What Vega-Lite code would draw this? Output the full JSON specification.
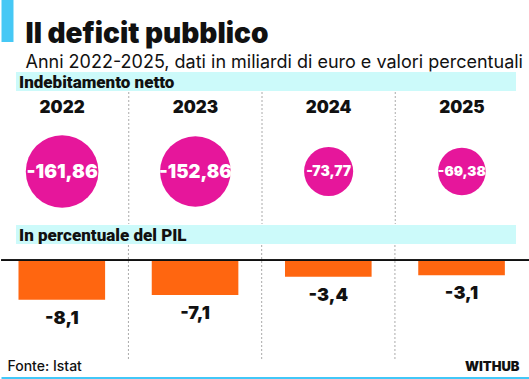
{
  "$schema": "https://vega.github.io/schema/vega-lite/v6.json",
  "padding": 0,
  "background": "white",
  "config": {
    "view": {"stroke": null},
    "locale": {"number": {"decimal": ",", "thousands": ".", "grouping": [3], "currency": ["", " €"], "minus": "-"}}
  },
  "datasets": {
    "deficit": [
      {"anno": "2022", "miliardi": -161.86, "pil": -8.1},
      {"anno": "2023", "miliardi": -152.86, "pil": -7.1},
      {"anno": "2024", "miliardi": -73.77, "pil": -3.4},
      {"anno": "2025", "miliardi": -69.38, "pil": -3.1}
    ]
  },
  "vconcat": [
    {
      "hconcat": [
        {"width": 12, "height": 42, "data": {"values": [{}]}, "mark": {"type": "rect", "color": "#46c8f5"}, "encoding": {}},
        {
          "width": 505, "height": 1,
          "data": {"values": [{}]},
          "mark": {"type": "rect", "opacity": 0},
          "encoding": {},
          "title": {
            "text": "Il deficit pubblico",
            "subtitle": "Anni 2022-2025, dati in miliardi di euro e valori percentuali",
            "orient": "bottom", "anchor": "start", "offset": 20,
            "font": "Inter", "fontSize": 28, "fontWeight": 900, "color": "#111111",
            "subtitleFont": "Inter", "subtitleFontSize": 18, "subtitleFontWeight": 400, "subtitleColor": "#111111", "subtitlePadding": 5
          }
        }
      ],
      "spacing": 12
    },
    {
      "width": 500, "height": 19,
      "data": {"values": [{"sezione": "Indebitamento netto"}]},
      "layer": [
        {"mark": {"type": "rect", "color": "#ccfafa"}, "encoding": {}},
        {"mark": {"type": "text", "align": "left", "baseline": "middle", "font": "Roboto", "fontWeight": 900, "fontSize": 17, "dx": 3, "dy": 1, "color": "#111111"},
         "encoding": {"x": {"datum": 0, "type": "quantitative", "scale": {"domain": [0, 1]}, "axis": null}, "text": {"field": "sezione"}}}
      ]
    },
    {
      "width": 529, "height": 25,
      "data": {"name": "deficit"},
      "layer": [
        {"transform": [{"filter": "datum.anno != '2022'"}],
         "mark": {"type": "rule", "color": "#aaaaaa", "strokeDash": [2, 2], "strokeWidth": 1},
         "encoding": {"x": {"field": "anno", "type": "nominal", "bandPosition": 0, "scale": {"type": "band", "range": [-6, 527], "paddingInner": 0, "paddingOuter": 0}, "axis": null}}},
        {"mark": {"type": "text", "font": "Inter", "fontWeight": 900, "fontSize": 17, "baseline": "middle", "dy": 3, "color": "#111111"},
         "encoding": {"x": {"field": "anno", "type": "nominal", "scale": {"type": "band", "range": [-6, 527], "paddingInner": 0, "paddingOuter": 0}, "axis": null}, "text": {"field": "anno"}}}
      ]
    },
    {
      "width": 529, "height": 105,
      "data": {"name": "deficit"},
      "resolve": {"scale": {"size": "independent"}},
      "layer": [
        {"transform": [{"filter": "datum.anno != '2022'"}],
         "mark": {"type": "rule", "color": "#aaaaaa", "strokeDash": [2, 2], "strokeWidth": 1},
         "encoding": {"x": {"field": "anno", "type": "nominal", "bandPosition": 0, "scale": {"type": "band", "range": [-6, 527], "paddingInner": 0, "paddingOuter": 0}, "axis": null}}},
        {"mark": {"type": "circle", "color": "#e6169b", "opacity": 1},
         "encoding": {
           "x": {"field": "anno", "type": "nominal", "scale": {"type": "band", "range": [-6, 527], "paddingInner": 0, "paddingOuter": 0}, "axis": null},
           "size": {"field": "miliardi", "type": "quantitative", "scale": {"domain": [0, -161.86], "range": [0, 5281]}, "legend": null}
         }},
        {"mark": {"type": "text", "font": "Inter", "fontWeight": 900, "baseline": "middle", "color": "white"},
         "encoding": {
           "x": {"field": "anno", "type": "nominal", "scale": {"type": "band", "range": [-6, 527], "paddingInner": 0, "paddingOuter": 0}, "axis": null},
           "text": {"field": "miliardi", "type": "quantitative", "format": ".2f"},
           "size": {"field": "miliardi", "type": "quantitative", "scale": {"domain": [-73.77, -161.86], "range": [14, 19]}, "legend": null}
         }}
      ]
    },
    {
      "width": 500, "height": 19,
      "data": {"values": [{"sezione": "In percentuale del PIL"}]},
      "layer": [
        {"mark": {"type": "rect", "color": "#ccfafa"}, "encoding": {}},
        {"mark": {"type": "text", "align": "left", "baseline": "middle", "font": "Roboto", "fontWeight": 900, "fontSize": 17, "dx": 3, "dy": 1, "color": "#111111"},
         "encoding": {"x": {"datum": 0, "type": "quantitative", "scale": {"domain": [0, 1]}, "axis": null}, "text": {"field": "sezione"}}}
      ]
    },
    {
      "width": 529, "height": 114,
      "data": {"name": "deficit"},
      "layer": [
        {"transform": [{"filter": "datum.anno != '2022'"}],
         "mark": {"type": "rule", "color": "#aaaaaa", "strokeDash": [2, 2], "strokeWidth": 1},
         "encoding": {"x": {"field": "anno", "type": "nominal", "bandPosition": 0, "scale": {"type": "band", "range": [-6, 527], "paddingInner": 0, "paddingOuter": 0}, "axis": null}}},
        {"mark": {"type": "bar", "color": "#ff6610", "width": {"band": 0.65}},
         "encoding": {
           "x": {"field": "anno", "type": "nominal", "scale": {"type": "band", "range": [-6, 527], "paddingInner": 0, "paddingOuter": 0}, "axis": null},
           "y": {"field": "pil", "type": "quantitative", "scale": {"domain": [-20.2, 3.1], "nice": false, "zero": false}, "axis": null},
           "y2": {"datum": 0}
         }},
        {"mark": {"type": "rule", "color": "#111111", "strokeWidth": 1.3},
         "encoding": {"y": {"datum": 0, "type": "quantitative"}}},
        {"mark": {"type": "text", "font": "Inter", "fontWeight": 900, "fontSize": 18, "baseline": "middle", "dy": 19, "color": "#111111"},
         "encoding": {
           "x": {"field": "anno", "type": "nominal", "scale": {"type": "band", "range": [-6, 527], "paddingInner": 0, "paddingOuter": 0}, "axis": null},
           "y": {"field": "pil", "type": "quantitative"},
           "text": {"field": "pil", "type": "quantitative", "format": ".1f"}
         }}
      ]
    },
    {
      "width": 529, "height": 16,
      "data": {"values": [{"fonte": "Fonte: Istat", "firma": "WITHUB"}]},
      "layer": [
        {"mark": {"type": "text", "align": "left", "baseline": "alphabetic", "dy": 2, "dx": 6, "font": "Inter", "fontSize": 14, "fontWeight": 500, "color": "#111111"},
         "encoding": {"x": {"datum": 0, "type": "quantitative", "scale": {"domain": [0, 1]}, "axis": null}, "text": {"field": "fonte"}}},
        {"mark": {"type": "text", "align": "right", "baseline": "alphabetic", "dy": 2, "dx": -11, "font": "Inter", "fontSize": 13, "fontWeight": 900, "color": "#111111"},
         "encoding": {"x": {"datum": 1, "type": "quantitative"}, "text": {"field": "firma"}}}
      ]
    },
    {"width": 529, "height": 8, "data": {"values": [{}]}, "mark": {"type": "rect", "color": "#42c8f8"}, "encoding": {}}
  ],
  "spacing": 0,
  "center": true
}
